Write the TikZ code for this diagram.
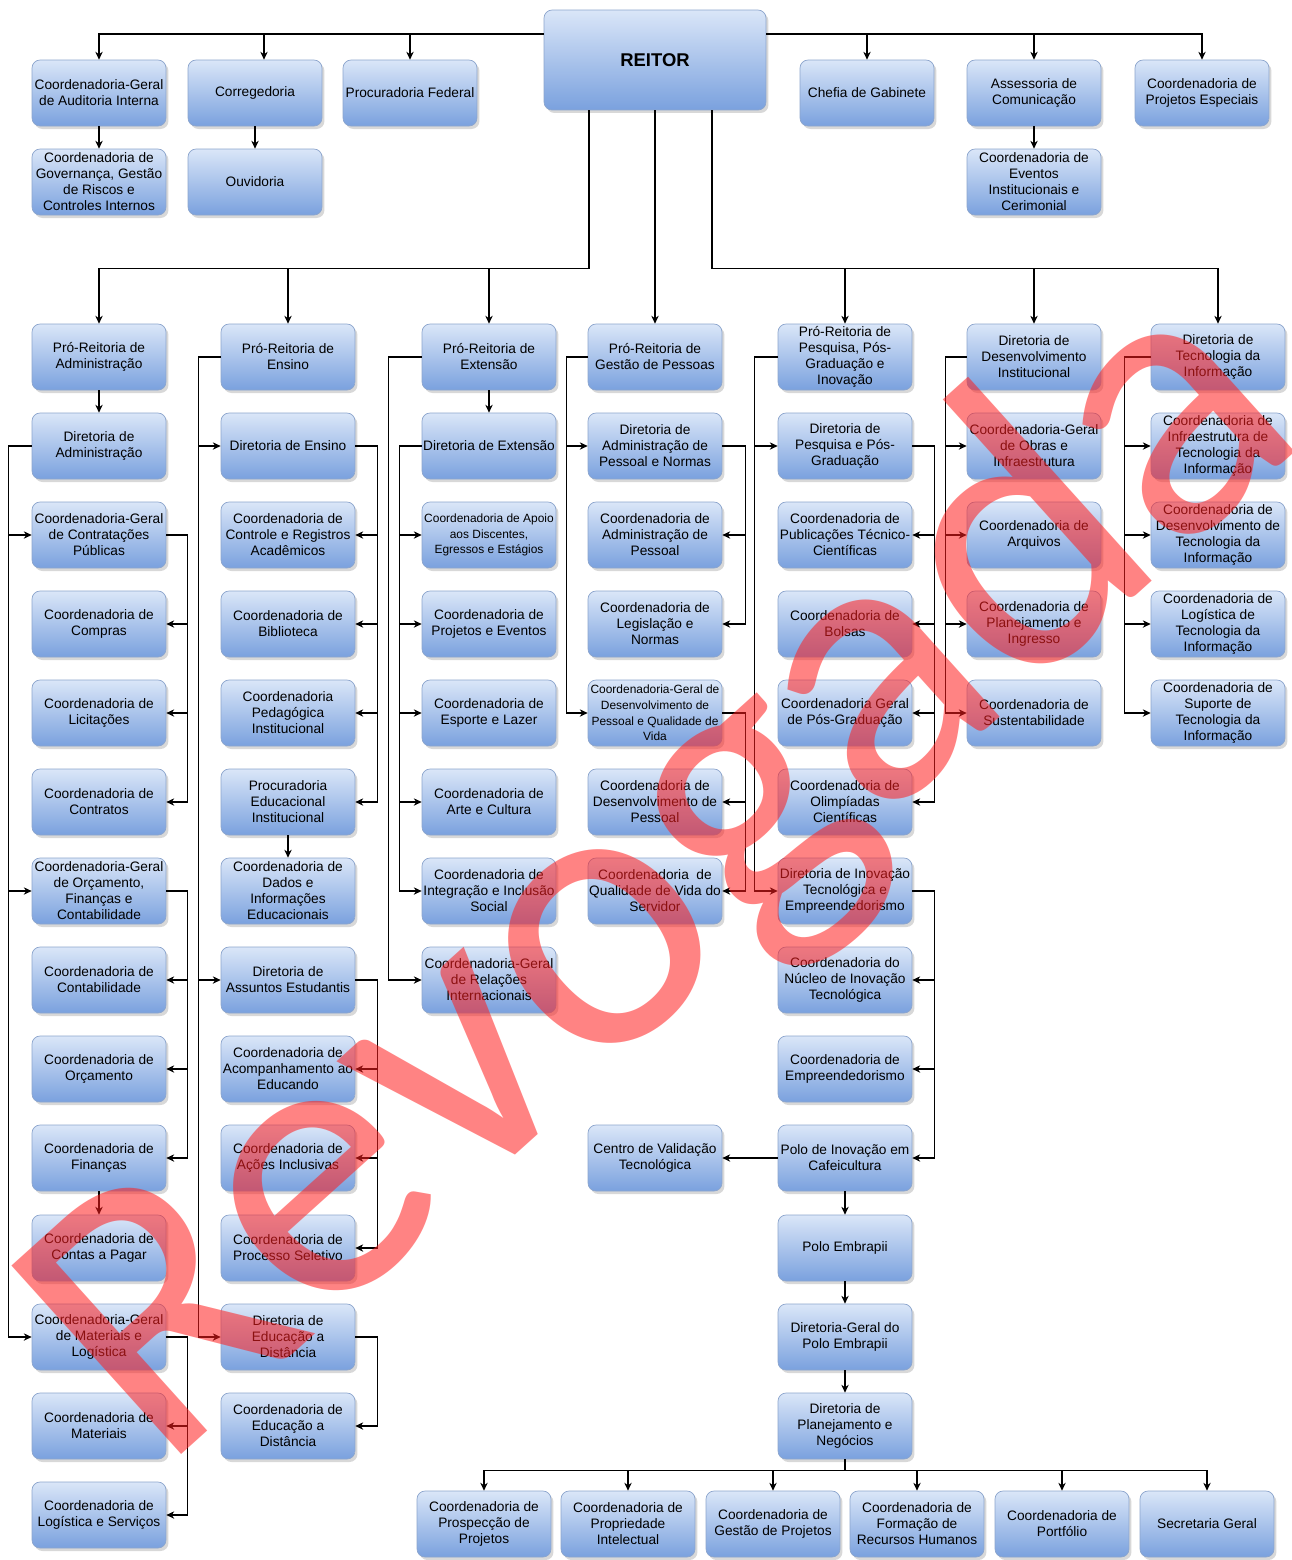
\documentclass[tikz,border=0pt]{standalone}
\usepackage{fontspec}
\setmainfont{Liberation Sans}
\newfontfamily\markfont{Carlito}
\usetikzlibrary{arrows.meta,shadows}
\definecolor{boxtop}{RGB}{218,230,248}
\definecolor{boxbot}{RGB}{122,161,222}
\definecolor{boxline}{RGB}{140,165,205}
\definecolor{wmred}{RGB}{255,30,30}
\tikzset{
  box/.style={draw=boxline, line width=0.4pt, rounded corners=0.16cm,
    minimum width=2.68cm, minimum height=1.32cm, inner sep=0pt, align=center,
    top color=boxtop, bottom color=boxbot,
    drop shadow={shadow xshift=0.05cm, shadow yshift=-0.06cm, opacity=0.3},
    font=\fontsize{7.8}{9.1}\selectfont},
  smallbox/.style={box, font=\fontsize{6.8}{8.9}\selectfont},
  bigbox/.style={box, minimum width=4.44cm, minimum height=2cm,
    font=\fontsize{10.5}{12}\selectfont\bfseries},
  arr/.style={-{Stealth[length=4.5pt,width=4.2pt]}, line width=0.6pt},
  revoked/.style={text=wmred, text opacity=0.55, rotate=42,
    font=\markfont\fontsize{225}{225}\selectfont}
}
\begin{document}
\begin{tikzpicture}[x=0.02cm,y=-0.02cm]
\fill[white] (0,0) rectangle (1292,1560);
\useasboundingbox (0,0) rectangle (1292,1560);

% reitoria e orgaos ligados
\node[bigbox] (r) at (655,60) {REITOR};
\node[box] (t1) at (99,93) {Coordenadoria-Geral\\de Auditoria Interna};
\node[box] (t1b) at (99,182) {Coordenadoria de\\Governança, Gestão\\de Riscos e\\Controles Internos};
\node[box] (t2) at (255,93) {Corregedoria};
\node[box] (t2b) at (255,182) {Ouvidoria};
\node[box] (t3) at (410,93) {Procuradoria Federal};
\node[box] (t4) at (867,93) {Chefia de Gabinete};
\node[box] (t5) at (1034,93) {Assessoria de\\Comunicação};
\node[box] (t5b) at (1034,182) {Coordenadoria de\\Eventos\\Institucionais e\\Cerimonial};
\node[box] (t6) at (1202,93) {Coordenadoria de\\Projetos Especiais};

% administracao
\node[box] (a1) at (99,357) {Pró-Reitoria de\\Administração};
\node[box] (a2) at (99,446) {Diretoria de\\Administração};
\node[box] (a3) at (99,535) {Coordenadoria-Geral\\de Contratações\\Públicas};
\node[box] (a4) at (99,624) {Coordenadoria de\\Compras};
\node[box] (a5) at (99,713) {Coordenadoria de\\Licitações};
\node[box] (a6) at (99,802) {Coordenadoria de\\Contratos};
\node[box] (a7) at (99,891) {Coordenadoria-Geral\\de Orçamento,\\Finanças e\\Contabilidade};
\node[box] (a8) at (99,980) {Coordenadoria de\\Contabilidade};
\node[box] (a9) at (99,1069) {Coordenadoria de\\Orçamento};
\node[box] (a10) at (99,1158) {Coordenadoria de\\Finanças};
\node[box] (a11) at (99,1248) {Coordenadoria de\\Contas a Pagar};
\node[box] (a12) at (99,1337) {Coordenadoria-Geral\\de Materiais e\\Logística};
\node[box] (a13) at (99,1426) {Coordenadoria de\\Materiais};
\node[box] (a14) at (99,1515) {Coordenadoria de\\Logística e Serviços};

% ensino
\node[box] (b1) at (288,357) {Pró-Reitoria de\\Ensino};
\node[box] (b2) at (288,446) {Diretoria de Ensino};
\node[box] (b3) at (288,535) {Coordenadoria de\\Controle e Registros\\Acadêmicos};
\node[box] (b4) at (288,624) {Coordenadoria de\\Biblioteca};
\node[box] (b5) at (288,713) {Coordenadoria\\Pedagógica\\Institucional};
\node[box] (b6) at (288,802) {Procuradoria\\Educacional\\Institucional};
\node[box] (b7) at (288,891) {Coordenadoria de\\Dados e\\Informações\\Educacionais};
\node[box] (b8) at (288,980) {Diretoria de\\Assuntos Estudantis};
\node[box] (b9) at (288,1069) {Coordenadoria de\\Acompanhamento ao\\Educando};
\node[box] (b10) at (288,1158) {Coordenadoria de\\Ações Inclusivas};
\node[box] (b11) at (288,1248) {Coordenadoria de\\Processo Seletivo};
\node[box] (b12) at (288,1337) {Diretoria de\\Educação a\\Distância};
\node[box] (b13) at (288,1426) {Coordenadoria de\\Educação a\\Distância};

% extensao
\node[box] (c1) at (489,357) {Pró-Reitoria de\\Extensão};
\node[box] (c2) at (489,446) {Diretoria de Extensão};
\node[smallbox] (c3) at (489,535) {Coordenadoria de Apoio\\aos Discentes,\\Egressos e Estágios};
\node[box] (c4) at (489,624) {Coordenadoria de\\Projetos e Eventos};
\node[box] (c5) at (489,713) {Coordenadoria de\\Esporte e Lazer};
\node[box] (c6) at (489,802) {Coordenadoria de\\Arte e Cultura};
\node[box] (c7) at (489,891) {Coordenadoria de\\Integração e Inclusão\\Social};
\node[box] (c8) at (489,980) {Coordenadoria-Geral\\de Relações\\Internacionais};

% gestao de pessoas
\node[box] (d1) at (655,357) {Pró-Reitoria de\\Gestão de Pessoas};
\node[box] (d2) at (655,446) {Diretoria de\\Administração de\\Pessoal e Normas};
\node[box] (d3) at (655,535) {Coordenadoria de\\Administração de\\Pessoal};
\node[box] (d4) at (655,624) {Coordenadoria de\\Legislação e\\Normas};
\node[smallbox] (d5) at (655,713) {Coordenadoria-Geral de\\Desenvolvimento de\\Pessoal e Qualidade de\\Vida};
\node[box] (d6) at (655,802) {Coordenadoria de\\Desenvolvimento de\\Pessoal};
\node[box] (d7) at (655,891) {Coordenadoria\ \ de\\Qualidade de Vida do\\Servidor};
\node[box] (d10) at (655,1158) {Centro de Validação\\Tecnológica};

% pesquisa, pos-graduacao e inovacao
\node[box] (e1) at (845,357) {Pró-Reitoria de\\Pesquisa, Pós-\\Graduação e\\Inovação};
\node[box] (e2) at (845,446) {Diretoria de\\Pesquisa e Pós-\\Graduação};
\node[box] (e3) at (845,535) {Coordenadoria de\\Publicações Técnico-\\Científicas};
\node[box] (e4) at (845,624) {Coordenadoria de\\Bolsas};
\node[box] (e5) at (845,713) {Coordenadoria Geral\\de Pós-Graduação};
\node[box] (e6) at (845,802) {Coordenadoria de\\Olimpíadas\\Científicas};
\node[box] (e7) at (845,891) {Diretoria de Inovação\\Tecnológica e\\Empreendedorismo};
\node[box] (e8) at (845,980) {Coordenadoria do\\Núcleo de Inovação\\Tecnológica};
\node[box] (e9) at (845,1069) {Coordenadoria de\\Empreendedorismo};
\node[box] (e10) at (845,1158) {Polo de Inovação em\\Cafeicultura};
\node[box] (e11) at (845,1248) {Polo Embrapii};
\node[box] (e12) at (845,1337) {Diretoria-Geral do\\Polo Embrapii};
\node[box] (e13) at (845,1426) {Diretoria de\\Planejamento e\\Negócios};
\node[box] (n1) at (484,1524) {Coordenadoria de\\Prospecção de\\Projetos};
\node[box] (n2) at (628,1524) {Coordenadoria de\\Propriedade\\Intelectual};
\node[box] (n3) at (773,1524) {Coordenadoria de\\Gestão de Projetos};
\node[box] (n4) at (917,1524) {Coordenadoria de\\Formação de\\Recursos Humanos};
\node[box] (n5) at (1062,1524) {Coordenadoria de\\Portfólio};
\node[box] (n6) at (1207,1524) {Secretaria Geral};

% desenvolvimento institucional
\node[box] (f1) at (1034,357) {Diretoria de\\Desenvolvimento\\Institucional};
\node[box] (f2) at (1034,446) {Coordenadoria-Geral\\de Obras e\\Infraestrutura};
\node[box] (f3) at (1034,535) {Coordenadoria de\\Arquivos};
\node[box] (f4) at (1034,624) {Coordenadoria de\\Planejamento e\\Ingresso};
\node[box] (f5) at (1034,713) {Coordenadoria de\\Sustentabilidade};

% tecnologia da informacao
\node[box] (g1) at (1218,357) {Diretoria de\\Tecnologia da\\Informação};
\node[box] (g2) at (1218,446) {Coordenadoria de\\Infraestrutura de\\Tecnologia da\\Informação};
\node[box] (g3) at (1218,535) {Coordenadoria de\\Desenvolvimento de\\Tecnologia da\\Informação};
\node[box] (g4) at (1218,624) {Coordenadoria de\\Logística de\\Tecnologia da\\Informação};
\node[box] (g5) at (1218,713) {Coordenadoria de\\Suporte de\\Tecnologia da\\Informação};

% ligacoes do reitor
\draw[arr] ([yshift=0.52cm]r.west) -| (t1.north);
\draw[arr] ([yshift=0.52cm]r.west) -| ([xshift=0.18cm]t2.north);
\draw[arr] ([yshift=0.52cm]r.west) -| (t3.north);
\draw[arr] ([yshift=0.52cm]r.east) -| (t4.north);
\draw[arr] ([yshift=0.52cm]r.east) -| (t5.north);
\draw[arr] ([yshift=0.52cm]r.east) -| (t6.north);
\draw[arr] (t1) -- (t1b);
\draw[arr] (t2) -- (t2b);
\draw[arr] (t5) -- (t5b);
\draw[arr] ([xshift=-1.32cm]r.south) -- ++(0,158) -| (a1.north);
\draw[arr] ([xshift=-1.32cm]r.south) -- ++(0,158) -| (b1.north);
\draw[arr] ([xshift=-1.32cm]r.south) -- ++(0,158) -| (c1.north);
\draw[arr] (r) -- (d1);
\draw[arr] ([xshift=1.14cm]r.south) -- ++(0,158) -| (e1.north);
\draw[arr] ([xshift=1.14cm]r.south) -- ++(0,158) -| (f1.north);
\draw[arr] ([xshift=1.14cm]r.south) -- ++(0,158) -| (g1.north);

% administracao
\draw[arr] (a1) -- (a2);
\draw[arr] (a2.west) -- ++(-23,0) |- (a3.west);
\draw[arr] (a2.west) -- ++(-23,0) |- (a7.west);
\draw[arr] (a2.west) -- ++(-23,0) |- (a12.west);
\draw[arr] (a3.east) -- ++(21,0) |- (a4.east);
\draw[arr] (a3.east) -- ++(21,0) |- (a5.east);
\draw[arr] (a3.east) -- ++(21,0) |- (a6.east);
\draw[arr] (a7.east) -- ++(21,0) |- (a8.east);
\draw[arr] (a7.east) -- ++(21,0) |- (a9.east);
\draw[arr] (a7.east) -- ++(21,0) |- (a10.east);
\draw[arr] (a10) -- (a11);
\draw[arr] (a12.east) -- ++(21,0) |- (a13.east);
\draw[arr] (a12.east) -- ++(21,0) |- (a14.east);

% ensino
\draw[arr] (b1.west) -- ++(-22,0) |- (b2.west);
\draw[arr] (b1.west) -- ++(-22,0) |- (b8.west);
\draw[arr] (b1.west) -- ++(-22,0) |- (b12.west);
\draw[arr] (b2.east) -- ++(22,0) |- (b3.east);
\draw[arr] (b2.east) -- ++(22,0) |- (b4.east);
\draw[arr] (b2.east) -- ++(22,0) |- (b5.east);
\draw[arr] (b2.east) -- ++(22,0) |- (b6.east);
\draw[arr] (b6) -- (b7);
\draw[arr] (b8.east) -- ++(22,0) |- (b9.east);
\draw[arr] (b8.east) -- ++(22,0) |- (b10.east);
\draw[arr] (b8.east) -- ++(22,0) |- (b11.east);
\draw[arr] (b12.east) -- ++(22,0) |- (b13.east);

% extensao
\draw[arr] (c1) -- (c2);
\draw[arr] (c1.west) -- ++(-33,0) |- (c8.west);
\draw[arr] (c2.west) -- ++(-22,0) |- (c3.west);
\draw[arr] (c2.west) -- ++(-22,0) |- (c4.west);
\draw[arr] (c2.west) -- ++(-22,0) |- (c5.west);
\draw[arr] (c2.west) -- ++(-22,0) |- (c6.west);
\draw[arr] (c2.west) -- ++(-22,0) |- (c7.west);

% gestao de pessoas
\draw[arr] (d1.west) -- ++(-21,0) |- (d2.west);
\draw[arr] (d1.west) -- ++(-21,0) |- (d5.west);
\draw[arr] (d2.east) -- ++(23,0) |- (d3.east);
\draw[arr] (d2.east) -- ++(23,0) |- (d4.east);
\draw[arr] (d5.east) -- ++(23,0) |- (d6.east);
\draw[arr] (d5.east) -- ++(23,0) |- (d7.east);

% pesquisa e inovacao
\draw[arr] (e1.west) -- ++(-23,0) |- (e2.west);
\draw[arr] (e1.west) -- ++(-23,0) |- (e7.west);
\draw[arr] (e2.east) -- ++(22,0) |- (e3.east);
\draw[arr] (e2.east) -- ++(22,0) |- (e4.east);
\draw[arr] (e2.east) -- ++(22,0) |- (e5.east);
\draw[arr] (e2.east) -- ++(22,0) |- (e6.east);
\draw[arr] (e7.east) -- ++(22,0) |- (e8.east);
\draw[arr] (e7.east) -- ++(22,0) |- (e9.east);
\draw[arr] (e7.east) -- ++(22,0) |- (e10.east);
\draw[arr] (e10) -- (d10);
\draw[arr] (e10) -- (e11);
\draw[arr] (e11) -- (e12);
\draw[arr] (e12) -- (e13);
\draw[arr] (e13.south) -- ++(0,11) -| (n1.north);
\draw[arr] (e13.south) -- ++(0,11) -| (n2.north);
\draw[arr] (e13.south) -- ++(0,11) -| (n3.north);
\draw[arr] (e13.south) -- ++(0,11) -| (n4.north);
\draw[arr] (e13.south) -- ++(0,11) -| (n5.north);
\draw[arr] (e13.south) -- ++(0,11) -| (n6.north);

% desenvolvimento institucional e TI
\draw[arr] (f1.west) -- ++(-21,0) |- (f2.west);
\draw[arr] (f1.west) -- ++(-21,0) |- (f3.west);
\draw[arr] (f1.west) -- ++(-21,0) |- (f4.west);
\draw[arr] (f1.west) -- ++(-21,0) |- (f5.west);
\draw[arr] (g1.west) -- ++(-26,0) |- (g2.west);
\draw[arr] (g1.west) -- ++(-26,0) |- (g3.west);
\draw[arr] (g1.west) -- ++(-26,0) |- (g4.west);
\draw[arr] (g1.west) -- ++(-26,0) |- (g5.west);

% carimbo
\node[revoked] (wm) at (668,878) {Revogada};
\end{tikzpicture}
\end{document}
